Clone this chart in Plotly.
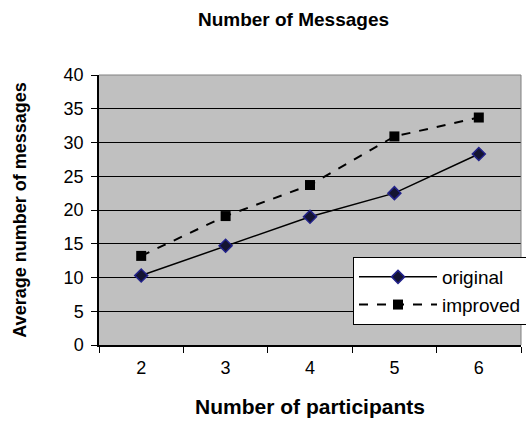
import plotly.graph_objects as go

categories = ["2", "3", "4", "5", "6"]
original = [10.3, 14.7, 19.0, 22.5, 28.3]
improved = [13.2, 19.1, 23.7, 30.9, 33.7]
y_ticks = [0, 5, 10, 15, 20, 25, 30, 35, 40]

fig = go.Figure()
fig.add_trace(go.Scatter(
    x=categories, y=original, name="original", mode="lines+markers",
    legendgroup="a",
    line=dict(color="black", width=1.5),
    marker=dict(symbol="diamond", size=10, color="#141432",
                line=dict(color="#22228a", width=1.5)),
))
fig.add_trace(go.Scatter(
    x=categories, y=improved, name="improved", mode="lines+markers",
    legendgroup="b",
    line=dict(color="black", width=2, dash="dash"),
    marker=dict(symbol="square", size=10, color="black"),
))

ff = "Liberation Sans, Arial, sans-serif"
fig.update_layout(
    width=526, height=421,
    margin=dict(l=99, r=5, t=75, b=76, autoexpand=False),
    paper_bgcolor="white", plot_bgcolor="#C0C0C0",
    font=dict(family=ff, color="black", size=18),
    title=dict(text="<b>Number of Messages</b>", x=293.5 / 526, xanchor="center",
               y=1 - 19 / 421, yanchor="middle", font=dict(size=19)),
    showlegend=True,
    legend=dict(x=(353 - 99) / 422, y=(345 - 257) / 270, xanchor="left", yanchor="top",
                bgcolor="white", bordercolor="black", borderwidth=1,
                font=dict(size=19), itemwidth=78, tracegroupgap=14,
                traceorder="normal"),
    xaxis=dict(
        type="category", range=[-0.5, 4.5], tickson="boundaries",
        ticks="outside", ticklen=6, tickcolor="black", tickwidth=1,
        ticklabelstandoff=6,
        showline=True, linecolor="black", linewidth=1.5, showgrid=False,
        title=dict(text="<b>Number of participants</b>", font=dict(size=21), standoff=22),
        zeroline=False,
    ),
    yaxis=dict(
        range=[0, 40], tickvals=y_ticks, ticks="outside", ticklen=6,
        tickcolor="black", ticklabelstandoff=4,
        showline=True, linecolor="black", linewidth=1.5,
        showgrid=True, gridcolor="black", gridwidth=1.2, zeroline=False,
        title=dict(text="<b>Average number of messages</b>", font=dict(size=18), standoff=32),
    ),
)
fig.add_shape(type="line", xref="paper", yref="paper", x0=0, x1=1, y0=1, y1=1,
              line=dict(color="#808080", width=1))
fig.add_shape(type="line", xref="paper", yref="paper", x0=1, x1=1, y0=0, y1=1,
              line=dict(color="#808080", width=1))

fig.write_html("out.html", config={"displayModeBar": False},
               post_script="document.body.style.margin='0';")
